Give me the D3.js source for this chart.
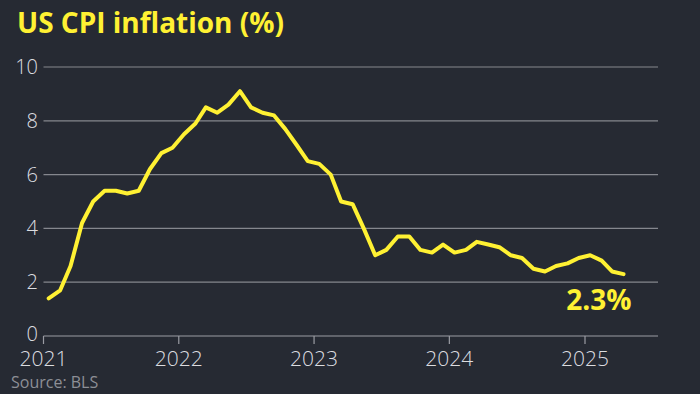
<!DOCTYPE html>
<html>
<head>
<meta charset="utf-8">
<script src="https://cdn.jsdelivr.net/npm/d3@7.9.0/dist/d3.min.js"></script>
<style>
  html, body { margin: 0; padding: 0; background: #262a33; }
  svg { display: block; }
</style>
</head>
<body>
<svg width="700" height="394"></svg>
<script>
// monthly CPI, Jan 2021 .. Apr 2025
const values2021 = [1.4, 1.7, 2.6, 4.2, 5.0, 5.4, 5.4, 5.3, 5.4, 6.2, 6.8, 7.0];
const values2022 = [7.5, 7.9, 8.5, 8.3, 8.6, 9.1, 8.5, 8.3, 8.2, 7.7, 7.1, 6.5];
const values2023 = [6.4, 6.0, 5.0, 4.9, 4.0, 3.0, 3.2, 3.7, 3.7, 3.2, 3.1, 3.4];
const values2024 = [3.1, 3.2, 3.5, 3.4, 3.3, 3.0, 2.9, 2.5, 2.4, 2.6, 2.7, 2.9];
const values2025 = [3.0, 2.8, 2.4, 2.3];
const yearTicks = [2021, 2022, 2023, 2024, 2025];
const yTicks = [0, 2, 4, 6, 8, 10];
const lastLabel = '2.3%';

const series = [values2021, values2022, values2023, values2024, values2025];
const data = [];
series.forEach((vals, i) => {
  vals.forEach((v, m) => {
    data.push({ date: new Date(yearTicks[i], m, 15), value: v });
  });
});

const svg = d3.select('svg');
const font = '"Open Sans", Roboto, sans-serif';
const yellow = '#fff133';

const x = d3.scaleTime()
  .domain([new Date(2021, 0, 1), new Date(2025, 0, 1)])
  .range([43.5, 585]);
const y = d3.scaleLinear().domain([0, 10]).range([336, 67]);
const xEnd = 658;

// title
svg.append('text')
  .attr('x', 17).attr('y', 33)
  .attr('fill', yellow)
  .attr('font-family', font)
  .attr('font-weight', 700)
  .attr('font-size', 28)
  .text('US CPI inflation (%)');

// gridlines + y labels
const grid = svg.append('g');
yTicks.forEach(t => {
  grid.append('line')
    .attr('x1', 43.5).attr('x2', xEnd)
    .attr('y1', y(t)).attr('y2', y(t))
    .attr('stroke', t === 0 ? '#9a9ca3' : '#85878e')
    .attr('stroke-width', 1.2);
  grid.append('text')
    .attr('x', 38).attr('y', y(t) + (t === 0 ? 5 : 7))
    .attr('text-anchor', 'end')
    .attr('fill', '#dcdde0')
    .attr('font-family', font)
    .attr('font-weight', 300)
    .attr('font-size', 20)
    .text(t);
});

// x ticks
const xAxis = svg.append('g');
yearTicks.forEach(yr => {
  const xp = x(new Date(yr, 0, 1));
  xAxis.append('line')
    .attr('x1', xp).attr('x2', xp)
    .attr('y1', 336).attr('y2', 344)
    .attr('stroke', '#9a9ca3').attr('stroke-width', 1.2);
  xAxis.append('text')
    .attr('x', xp).attr('y', 366)
    .attr('text-anchor', 'middle')
    .attr('fill', '#dcdde0')
    .attr('font-family', font)
    .attr('font-weight', 300)
    .attr('font-size', 21)
    .text(yr);
});

// line
const line = d3.line().x(d => x(d.date)).y(d => y(d.value));
svg.append('path')
  .datum(data)
  .attr('d', line)
  .attr('fill', 'none')
  .attr('stroke', yellow)
  .attr('stroke-width', 4)
  .attr('stroke-linejoin', 'round')
  .attr('stroke-linecap', 'round');

// end label
const last = data[data.length - 1];
svg.append('text')
  .attr('x', x(last.date) + 8).attr('y', 310)
  .attr('text-anchor', 'end')
  .attr('fill', yellow)
  .attr('font-family', font)
  .attr('font-weight', 700)
  .attr('font-size', 28)
  .text(lastLabel);

// source
svg.append('text')
  .attr('x', 11).attr('y', 388)
  .attr('fill', '#8d8f96')
  .attr('font-family', font)
  .attr('font-size', 16)
  .text('Source: BLS');
</script>
</body>
</html>
